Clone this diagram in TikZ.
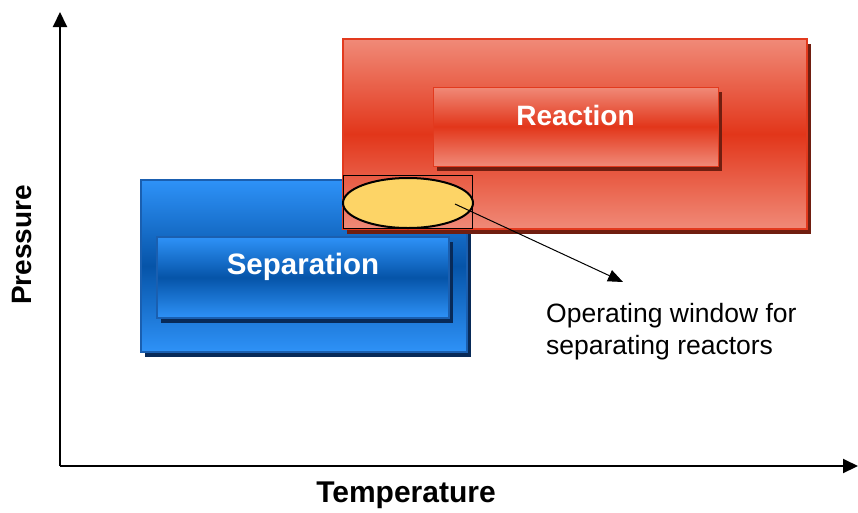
\documentclass[tikz,border=0pt]{standalone}
\usepackage{fontspec}
\setmainfont{Liberation Sans}
\usetikzlibrary{arrows.meta,shadows,shapes.geometric}
\definecolor{redlight}{HTML}{F08A78}
\definecolor{redmid}{HTML}{E2361A}
\definecolor{redborder}{HTML}{E23A1E}
\definecolor{redshadow}{HTML}{701E10}
\definecolor{bluelight}{HTML}{2E92F8}
\definecolor{bluemid}{HTML}{0654A8}
\definecolor{blueborder}{HTML}{1A5FB0}
\definecolor{blueshadow}{HTML}{082A58}
\definecolor{winyellow}{HTML}{FDD466}
\pgfdeclareverticalshading{redsh}{100bp}{color(0bp)=(redlight); color(25bp)=(redlight); color(50bp)=(redmid); color(75bp)=(redlight); color(100bp)=(redlight)}
\pgfdeclareverticalshading{bluesh}{100bp}{color(0bp)=(bluelight); color(25bp)=(bluelight); color(50bp)=(bluemid); color(75bp)=(bluelight); color(100bp)=(bluelight)}
\begin{document}
\begin{tikzpicture}[x=1pt,y=-1pt,
  redbox/.style={rectangle, shading=redsh, draw=redborder, line width=1.5pt, inner sep=0pt,
    drop shadow={fill=redshadow, opacity=1, shadow xshift=4pt, shadow yshift=-5pt}},
  bluebox/.style={rectangle, shading=bluesh, draw=blueborder, line width=1.5pt, inner sep=0pt,
    drop shadow={fill=blueshadow, opacity=1, shadow xshift=4pt, shadow yshift=-5pt}},
  boxlabel/.style={text=white, font=\fontsize{28}{32}\selectfont\bfseries, inner sep=0pt},
  axislabel/.style={text=black, font=\fontsize{28}{32}\selectfont\bfseries, inner sep=0pt},
  axis/.style={line width=2pt, -{Triangle[length=15pt,width=14pt]}},
  pointer/.style={line width=1pt, -{Triangle[length=15pt,width=12pt]}}
]
\useasboundingbox (0,0) rectangle (858,512);
\fill[white] (0,0) rectangle (858,512);
% axes
\coordinate (origin) at (60,466);
\coordinate (ytip) at (60,12);
\coordinate (xtip) at (858,466);
\draw[axis] (origin) -- (ytip);
\draw[axis] (origin) -- (xtip);
\node[axislabel, rotate=90] (plabel) at (22,245) {Pressure};
\node[axislabel, font=\fontsize{30}{32}\selectfont\bfseries] (tlabel) at (406,495) {Temperature};
% separation
\node[bluebox, minimum width=326pt, minimum height=172pt] (sepouter) at (304,266) {};
\node[bluebox, minimum width=292pt, minimum height=81pt] (sepinner) at (303,277.5) {};
\node[boxlabel, font=\fontsize{29.5}{32}\selectfont\bfseries] (seplabel) at (303,267) {Separation};
% reaction
\node[redbox, minimum width=464pt, minimum height=190pt] (reaouter) at (575,134) {};
\node[redbox, minimum width=285pt, minimum height=79pt, line width=1pt] (reainner) at (575.5,126.5) {};
\node[boxlabel] (realabel) at (575.5,115) {Reaction};
% operating window
\node[rectangle, draw=black, line width=1pt, minimum width=129pt, minimum height=53pt, inner sep=0pt] (win) at (407.5,201.5) {};
\node[ellipse, draw=black, fill=winyellow, line width=2pt, minimum width=130pt, minimum height=50pt, inner sep=0pt] (ell) at (408,203) {};
\coordinate (pstart) at (455,204);
\coordinate (ptip) at (623,282);
\draw[pointer] (pstart) -- (ptip);
\node[anchor=north west, align=left, inner sep=0pt, font=\fontsize{26.5}{32}\selectfont] (optext) at (546,303) {Operating window for\\separating reactors};
\end{tikzpicture}
\end{document}
